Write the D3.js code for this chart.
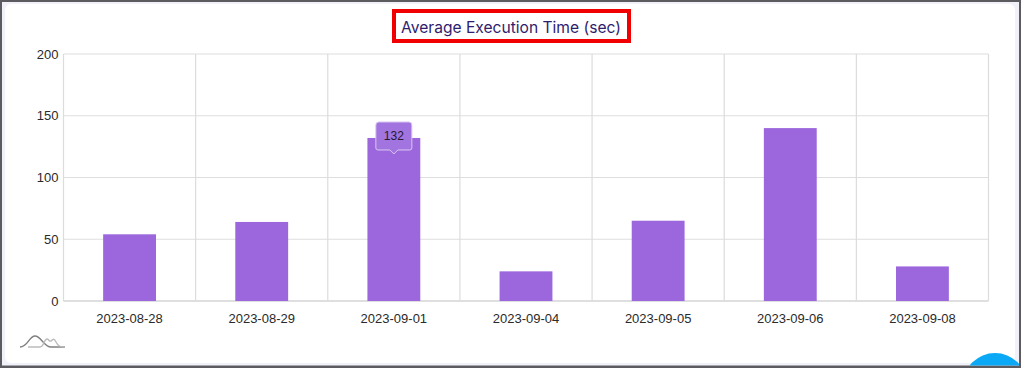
<!DOCTYPE html>
<html>
<head>
<meta charset="utf-8">
<script src="https://cdnjs.cloudflare.com/ajax/libs/d3/7.8.5/d3.min.js"></script>
<style>
  html, body { margin: 0; padding: 0; background: #fff; overflow: hidden; }
  svg { display: block; }
</style>
</head>
<body>
<svg id="chart"></svg>
<script>
// chart values
const dates = ["2023-08-28", "2023-08-29", "2023-09-01", "2023-09-04", "2023-09-05", "2023-09-06", "2023-09-08"];
const execTimes = [54, 64, 132, 24, 65, 140, 28];
const yTicks = [0, 50, 100, 150, 200];
const titleText = "Average Execution Time (sec)";
const hoveredDate = "2023-09-01";

const W = 1021, H = 368;
const margin = { top: 54, right: 32.5, bottom: 67, left: 63.5 },
  width = W - margin.left - margin.right,
  height = H - margin.top - margin.bottom;

const root = d3.select("#chart").attr("width", W).attr("height", H);

// window frame and card
root.append("rect").attr("width", W).attr("height", H).attr("fill", "#5c5c60");
root.append("rect").attr("x", 2).attr("y", 2).attr("width", W - 4).attr("height", H - 4.5).attr("fill", "#f1f1fa");
root.append("rect").attr("x", 5).attr("y", 4).attr("width", W - 11).attr("height", H - 9).attr("rx", 6).attr("fill", "#fff");

// blue help button, cut off by the window edge
root.append("clipPath").attr("id", "frame-clip")
  .append("rect").attr("x", 2).attr("y", 2).attr("width", W - 4).attr("height", H - 4.5);
root.append("circle")
  .attr("cx", 995).attr("cy", 385).attr("r", 32)
  .attr("fill", "#0aa8f5")
  .attr("clip-path", "url(#frame-clip)");

const svg = root.append("g").attr("transform", `translate(${margin.left},${margin.top})`);

const x = d3.scaleBand().domain(dates).range([0, width]).padding(0);
const y = d3.scaleLinear().domain([0, 200]).range([height, 0]);

// grid
svg.selectAll(".h-grid").data(yTicks).enter().append("line")
  .attr("class", "h-grid")
  .attr("x1", 0).attr("x2", width)
  .attr("y1", (d) => y(d)).attr("y2", (d) => y(d))
  .attr("stroke-width", 1.2)
  .attr("stroke", (d) => (d === 0 ? "#c0c0c4" : "#dedede"));

svg.selectAll(".v-grid").data(dates.concat("end")).enter().append("line")
  .attr("class", "v-grid")
  .attr("x1", (d) => (d === "end" ? width : x(d)))
  .attr("x2", (d) => (d === "end" ? width : x(d)))
  .attr("y1", 0).attr("y2", height)
  .attr("stroke-width", 1.2)
  .attr("stroke", "#dcdcdc");

// bars
svg.selectAll(".bar").data(dates).enter().append("rect")
  .attr("class", "bar")
  .attr("x", (d) => x(d) + x.bandwidth() * 0.3)
  .attr("width", x.bandwidth() * 0.4)
  .attr("y", (d, i) => y(execTimes[i]))
  .attr("height", (d, i) => height - y(execTimes[i]))
  .attr("fill", "#9c66dc");

// axis labels
svg.selectAll(".y-label").data(yTicks).enter().append("text")
  .attr("class", "y-label")
  .attr("x", -5).attr("y", (d) => y(d)).attr("dy", "0.35em")
  .attr("text-anchor", "end")
  .style("font", "13px 'Liberation Sans'")
  .attr("fill", "#2a2a2a")
  .text((d) => d);

svg.selectAll(".x-label").data(dates).enter().append("text")
  .attr("class", "x-label")
  .attr("x", (d) => x(d) + x.bandwidth() / 2).attr("y", height + 22)
  .attr("text-anchor", "middle")
  .style("font", "13px 'Liberation Sans'")
  .attr("fill", "#2a2a2a")
  .text((d) => d);

// tooltip over the hovered bar
const hoverIdx = dates.indexOf(hoveredDate);
const tip = svg.append("g")
  .attr("transform", `translate(${x(hoveredDate) + x.bandwidth() / 2},${y(execTimes[hoverIdx])})`);
tip.append("path")
  .attr("d", "M-18,-13 v23 q0,2 2,2 h12 l4,4 l4,-4 h12 q2,0 2,-2 v-23 q0,-3 -3,-3 h-30 q-3,0 -3,3 z")
  .attr("fill", "#a274df")
  .attr("stroke", "#d9c8f2");
tip.append("text")
  .attr("y", 2).attr("text-anchor", "middle")
  .style("font", "12px 'Liberation Sans'")
  .attr("fill", "#241a33")
  .text(execTimes[hoverIdx]);

// title with the red highlight box
root.append("rect")
  .attr("x", 394).attr("y", 11).attr("width", 235).attr("height", 30)
  .attr("fill", "#fff").attr("stroke", "#f00000").attr("stroke-width", 4);
root.append("text")
  .attr("x", 511).attr("y", 33)
  .attr("text-anchor", "middle")
  .style("font", "15.6px Inter, 'Noto Sans'")
  .attr("fill", "#2f1d6e")
  .text(titleText);

// small logo, bottom left
const logo = root.append("g").attr("fill", "none");
logo.append("path")
  .attr("d", "M20,347 C28,347 29,336 35,336 C41,336 44,347 51,347 H65")
  .attr("stroke", "#808080").attr("stroke-width", 1.4);
logo.append("path")
  .attr("d", "M28,347 H40 C44,347 44,339 47,339 C49,339 49,342 51,341 C53,339 54,338 56,342 C58,346 60,347 65,347")
  .attr("stroke", "#bcbcbc").attr("stroke-width", 1.4);
</script>
</body>
</html>
